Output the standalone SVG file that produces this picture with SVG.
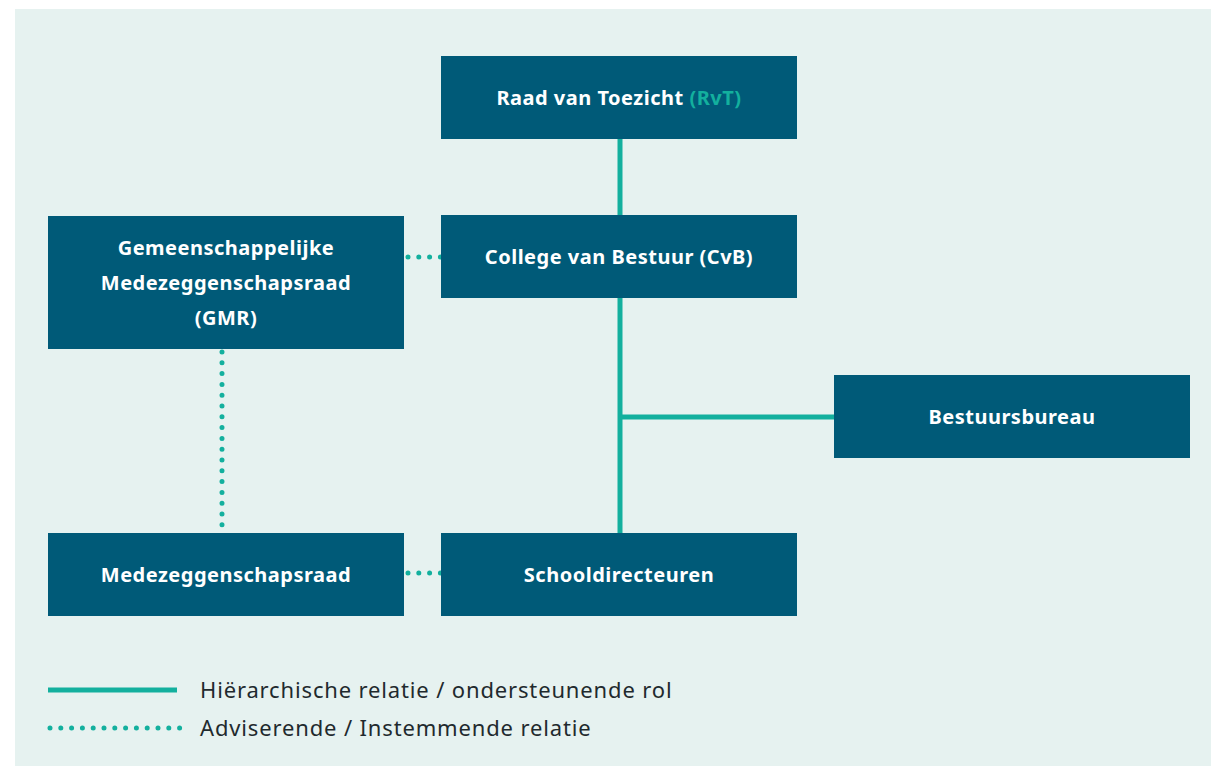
<svg xmlns="http://www.w3.org/2000/svg" width="1211" height="766" viewBox="0 0 1211 766">
<style>
.box{fill:#005a78}
.lbl{font-family:"Noto Sans","Liberation Sans",sans-serif;font-weight:bold;font-size:20px;letter-spacing:0.5px;fill:#ffffff;text-anchor:middle}
.solid{stroke:#13b09e;stroke-width:5;fill:none}
.dot{stroke:#13b09e;stroke-width:5;stroke-linecap:round;stroke-dasharray:0 10.8;fill:none}
.leg{font-family:"Noto Sans","Liberation Sans",sans-serif;font-size:22px;letter-spacing:0.85px;fill:#1f2a2e}
</style>
<rect x="15" y="9" width="1196" height="757" fill="#e6f2f0"/>
<g id="connectors">
<line class="solid" x1="620" y1="139" x2="620" y2="215"/>
<line class="solid" x1="620" y1="298" x2="620" y2="533"/>
<line class="solid" x1="620" y1="417" x2="834" y2="417"/>
<line class="dot" x1="408" y1="257" x2="441" y2="257"/>
<line class="dot" x1="222" y1="352" x2="222" y2="531"/>
<line class="dot" x1="408" y1="573" x2="441" y2="573"/>
</g>
<g id="rvt"><rect class="box" x="441" y="56" width="356" height="83"/><text class="lbl" x="619" y="105">Raad van Toezicht <tspan fill="#13b09e">(RvT)</tspan></text></g>
<g id="cvb"><rect class="box" x="441" y="215" width="356" height="83"/><text class="lbl" x="619" y="264">College van Bestuur (CvB)</text></g>
<g id="gmr"><rect class="box" x="48" y="216" width="356" height="133"/><text class="lbl" x="226" y="255">Gemeenschappelijke</text><text class="lbl" x="226" y="290">Medezeggenschapsraad</text><text class="lbl" x="226" y="325">(GMR)</text></g>
<g id="bestuursbureau"><rect class="box" x="834" y="375" width="356" height="83"/><text class="lbl" x="1012" y="424">Bestuursbureau</text></g>
<g id="mr"><rect class="box" x="48" y="533" width="356" height="83"/><text class="lbl" x="226" y="582">Medezeggenschapsraad</text></g>
<g id="schooldirecteuren"><rect class="box" x="441" y="533" width="356" height="83"/><text class="lbl" x="619" y="582">Schooldirecteuren</text></g>
<g id="legend">
<line class="solid" x1="48" y1="690" x2="177" y2="690"/>
<line class="dot" x1="50" y1="728" x2="180" y2="728"/>
<text class="leg" x="200" y="698">Hiërarchische relatie / ondersteunende rol</text>
<text class="leg" x="200" y="736">Adviserende / Instemmende relatie</text>
</g>
</svg>
